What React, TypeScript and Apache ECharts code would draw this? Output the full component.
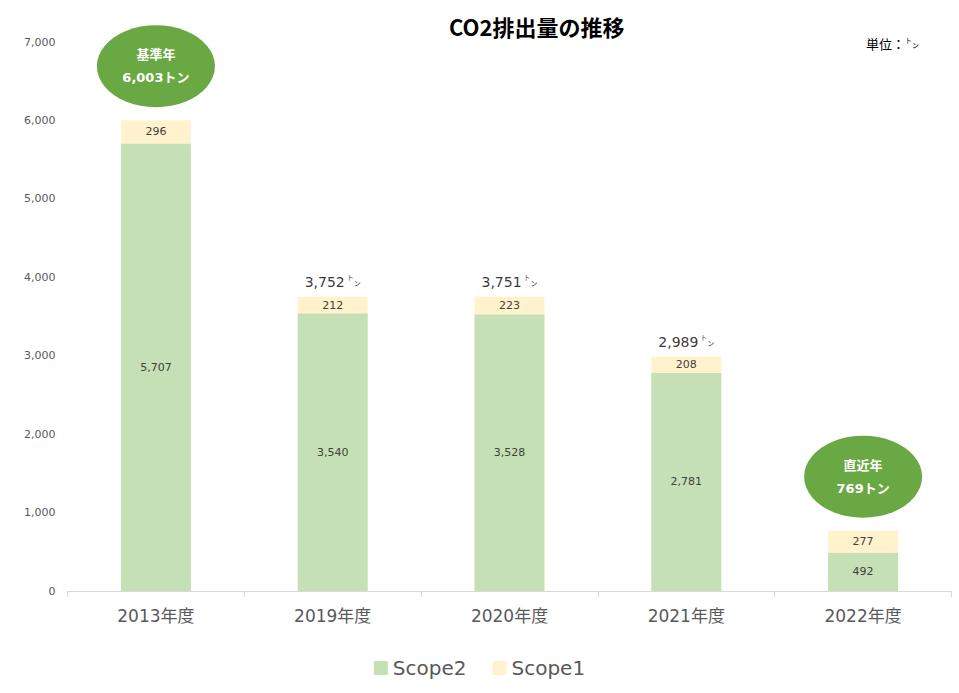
import React, { useEffect, useRef } from "react";
import * as echarts from "echarts";

const categories = ["2013年度", "2019年度", "2020年度", "2021年度", "2022年度"];
const scope2 = [5707, 3540, 3528, 2781, 492];
const scope1 = [296, 212, 223, 208, 277];
const yTicks = [0, 1000, 2000, 3000, 4000, 5000, 6000, 7000];
const totalLabelIdx = [1, 2, 3];
const badgeIdx = [0, 4];
const badgeTitles = ["基準年", "直近年"];

const fmt = (v: number) => v.toLocaleString("en-US");
const FONT = "'DejaVu Sans', 'Noto Sans CJK JP', sans-serif";
const JP = "'Noto Sans CJK JP', sans-serif";

export default function App() {
  const ref = useRef<HTMLDivElement>(null);
  useEffect(() => {
    if (!ref.current) return;
    const chart = echarts.init(ref.current, undefined, { renderer: "svg" });
    const totals = scope2.map((v, i) => v + scope1[i]);
    chart.setOption({
      animation: false,
      backgroundColor: "#ffffff",
      title: {
        text: "CO2排出量の推移",
        left: 444,
        top: 10,
        textStyle: { fontFamily: JP, fontSize: 22, fontWeight: "bold", color: "#000000" },
      },
      graphic: [
        {
          type: "text",
          left: 866,
          top: 36,
          style: {
            text: "{a|単位：}{b|ト}{c|ン}",
            rich: {
              a: { fontFamily: JP, fontSize: 13, fill: "#000" },
              b: { fontFamily: JP, fontSize: 7, fill: "#000", padding: [0, 0, 8, 0] },
              c: { fontFamily: JP, fontSize: 7, fill: "#000", padding: [4, 0, 0, 0] },
            },
          },
        },
      ],
      legend: {
        data: ["Scope2", "Scope1"],
        left: "center",
        top: 653,
        itemWidth: 14,
        itemHeight: 14,
        itemGap: 26,
        icon: "rect",
        textStyle: { fontFamily: FONT, fontSize: 20, color: "#595959" },
      },
      grid: { left: 67.5, right: 7.5, top: 42, bottom: 102 },
      xAxis: {
        type: "category",
        data: categories,
        axisLine: { lineStyle: { color: "#d9d9d9" } },
        axisTick: { show: true, length: 6, lineStyle: { color: "#d9d9d9" } },
        axisLabel: { fontFamily: FONT, fontSize: 17, color: "#595959", margin: 16 },
      },
      yAxis: {
        type: "value",
        min: yTicks[0],
        max: yTicks[yTicks.length - 1],
        interval: 1000,
        axisLine: { show: false },
        axisTick: { show: false },
        splitLine: { show: false },
        axisLabel: {
          fontFamily: FONT,
          fontSize: 11,
          color: "#595959",
          margin: 12,
          formatter: (v: number) => fmt(v),
        },
      },
      series: [
        {
          name: "Scope2",
          type: "bar",
          stack: "t",
          barWidth: 70,
          data: scope2,
          itemStyle: { color: "#c5e0b4" },
          label: {
            show: true,
            position: "inside",
            fontFamily: FONT,
            fontSize: 11,
            color: "#404040",
            formatter: (p: any) => fmt(p.value),
          },
        },
        {
          name: "Scope1",
          type: "bar",
          stack: "t",
          barWidth: 70,
          data: scope1,
          itemStyle: { color: "#fff2cc" },
          label: {
            show: true,
            position: "inside",
            fontFamily: FONT,
            fontSize: 11,
            color: "#404040",
            formatter: (p: any) => fmt(p.value),
          },
          markPoint: {
            symbol: "circle",
            silent: true,
            data: badgeIdx.map((ci, k) => ({
              coord: [categories[ci], totals[ci]],
              symbolSize: [118, 82],
              symbolOffset: [0, -54],
              itemStyle: { color: "#6aa843" },
              label: {
                show: true,
                position: "inside",
                formatter: `${badgeTitles[k]}\n${fmt(totals[ci])}トン`,
                fontFamily: FONT,
                fontSize: 13,
                fontWeight: "bold",
                lineHeight: 23,
                color: "#ffffff",
              },
            })),
          },
        },
        {
          name: "合計",
          type: "scatter",
          symbolSize: 0,
          silent: true,
          data: totalLabelIdx.map((ci) => [categories[ci], totals[ci]]),
          label: {
            show: true,
            position: "top",
            distance: 7,
            formatter: (p: any) => `{a|${fmt(p.value[1])}}{b|ト}{c|ン}`,
            rich: {
              a: { fontFamily: FONT, fontSize: 14, color: "#000000" },
              b: { fontFamily: JP, fontSize: 7, color: "#000000", padding: [0, 0, 9, 2] },
              c: { fontFamily: JP, fontSize: 7, color: "#000000", padding: [3, 0, 0, 0] },
            },
          },
        },
      ],
    });
    return () => chart.dispose();
  }, []);
  return (
    <div
      ref={ref}
      style={{ position: "fixed", left: 0, top: 0, width: 959, height: 693 }}
    />
  );
}
